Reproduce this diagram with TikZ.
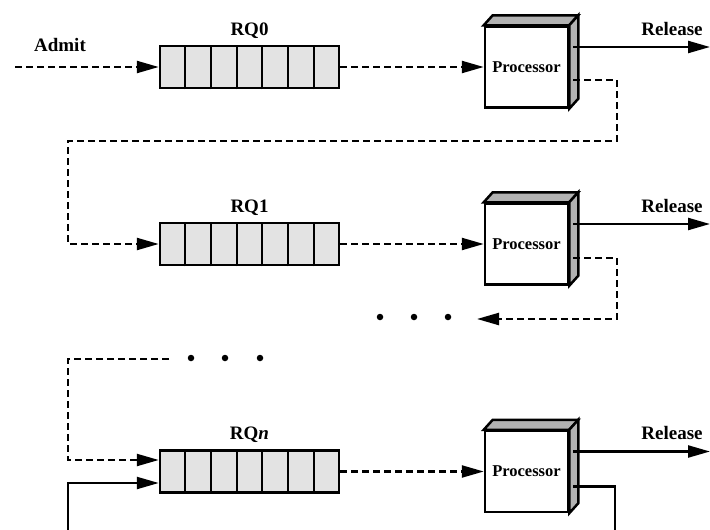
\documentclass[tikz,border=0pt]{standalone}
\usepackage{fontspec}
\setmainfont{Liberation Serif}
\usetikzlibrary{arrows.meta,positioning,calc}

\tikzset{
  queuebox/.style={draw, line width=2.5pt, fill=gray!22, minimum width=179pt,
    minimum height=42pt, inner sep=0pt},
  procbox/.style={draw, line width=2.5pt, fill=white, minimum width=83pt,
    minimum height=81pt, inner sep=0pt, font=\fontsize{16.5}{18}\selectfont\bfseries},
  lbl/.style={font=\fontsize{19}{21}\selectfont\bfseries, anchor=base, inner sep=0pt},
  flow/.style={line width=2.3pt, -{Triangle[length=22pt,width=12pt]}},
  dashflow/.style={flow, dash pattern=on 7pt off 4pt},
  dot/.style={circle, fill, inner sep=0pt, minimum size=6.5pt},
}

\begin{document}
\begin{tikzpicture}[x=1pt, y=-1pt, line join=miter]

    % Frame of the picture (pixel units, y downwards)
    \clip (0,0) rectangle (710,530);

    % One row per ready queue: queue, processor, labels
    \foreach \r/\y/\t in {0/67/0, 1/244/1, n/471.5/\textit{n}} {
        \node[queuebox] (q\r) at (249.5,\y) {};
        \node[procbox] (p\r) at (526.5,\y) {Processor};
        \node[lbl] (rq\r) at (249.5,\y-32) {RQ\t};
        \node[lbl] (rel\r) at (672,\y-32) {Release};
        \coordinate (out\r) at (710,\y-20);
        % queue cells
        \foreach \i in {1,...,6}
            \draw[line width=2pt] ($(q\r.south west)!\i/7!(q\r.south east)$)
                -- ($(q\r.north west)!\i/7!(q\r.north east)$);
        % top and side faces of the processor
        \draw[line width=2.5pt, fill=gray!60] (p\r.north west) -- ++(9,-10)
            -- ([shift={(9,-10)}]p\r.north east) -- (p\r.north east) -- cycle;
        \draw[line width=2.5pt, fill=gray!60] (p\r.north east) -- ++(9,-10)
            -- ([shift={(9,-10)}]p\r.south east) -- (p\r.south east) -- cycle;
        % queue to processor, processor to release
        \draw[dashflow] (q\r.east) -- (p\r.west);
        \draw[flow] ([xshift=4pt,yshift=20pt]p\r.east) -- (out\r);
    }

    % Admit
    \node[lbl] (admit) at (60,51) {Admit};
    \coordinate (in) at (15,67);
    \draw[dashflow] (in) -- (q0.west);

    % RQ0 down to RQ1
    \draw[dashflow] ([xshift=4pt,yshift=-13pt]p0.east) -| (617,141) -| (68,244) -- (q1.west);

    % RQ1 on to the dots
    \coordinate (dotsA) at (477,319);
    \draw[dashflow] ([xshift=4pt,yshift=-14pt]p1.east) -| (617,319) -- (dotsA);
    \foreach \x/\k in {380/1,414/2,448/3}
        \node[dot] (a\k) at (\x,317) {};

    % dots down to RQn
    \foreach \x/\k in {191/1,225/2,260/3}
        \node[dot] (b\k) at (\x,358) {};
    \coordinate (dotsB) at (169,359);
    \draw[dashflow] (dotsB) -- (68,359) -- (68,460) -- ([yshift=11.5pt]qn.west);

    % RQn back into itself
    \draw[flow] ([xshift=4pt,yshift=-15pt]pn.east) -| (615,548) -| (68,483) -- ([yshift=-11.5pt]qn.west);

\end{tikzpicture}
\end{document}
